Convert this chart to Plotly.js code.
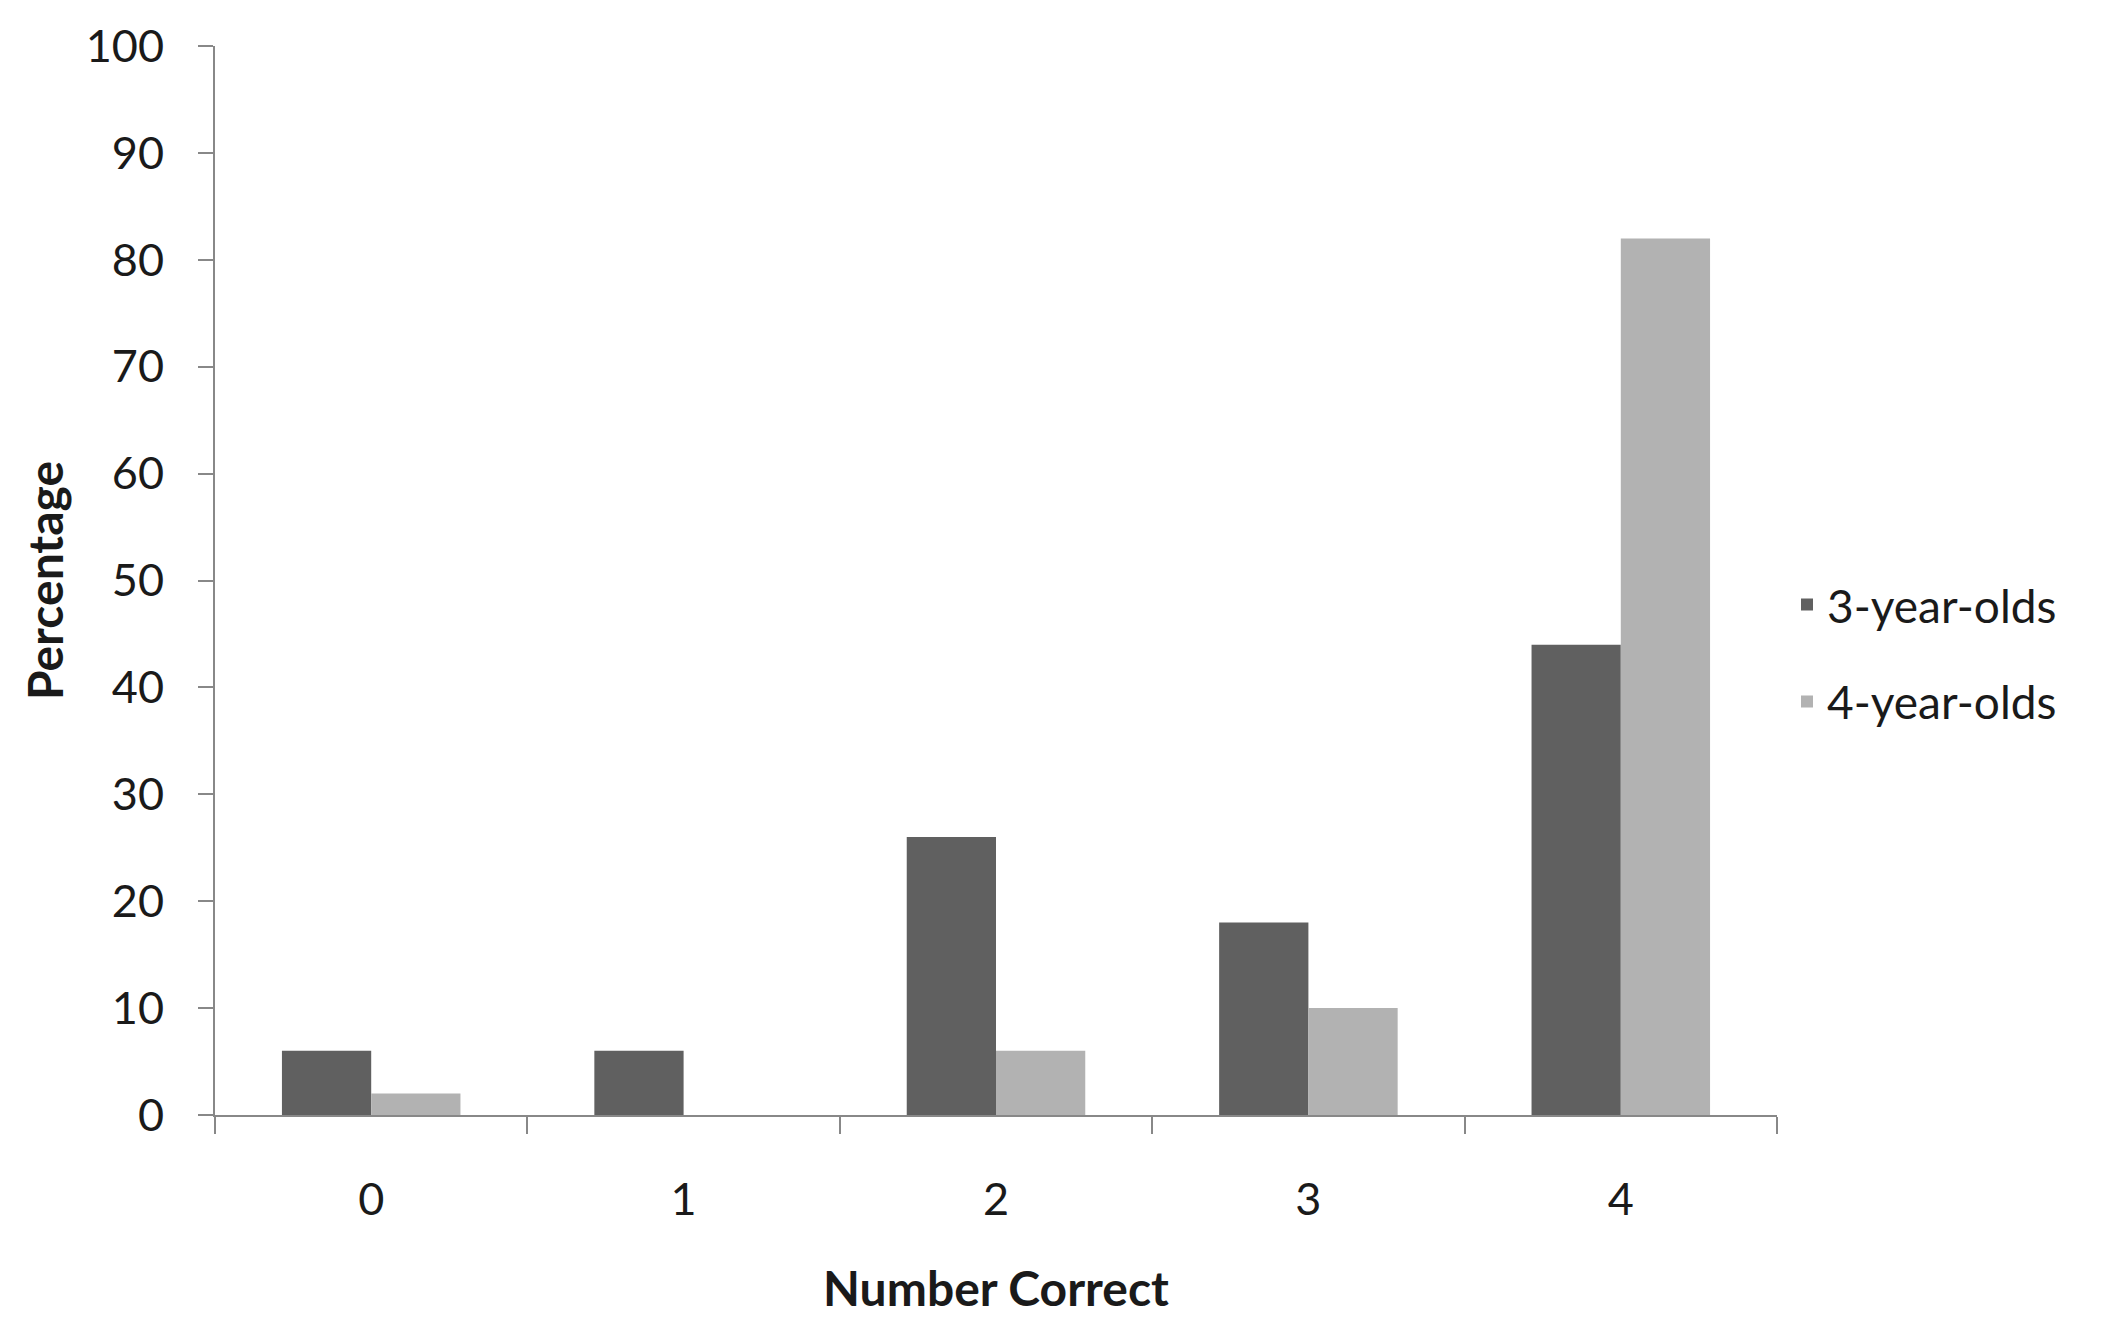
<!DOCTYPE html>
<html>
<head>
<meta charset="utf-8">
<script src="https://cdn.plot.ly/plotly-3.0.1.min.js"></script>
<style>html,body{margin:0;padding:0;background:#fff;}#chart{width:2103px;height:1337px;}</style>
</head>
<body>
<div id="chart"></div>
<script>
const categories = ["0", "1", "2", "3", "4"];
const threeYearOlds = [6, 6, 26, 18, 44];
const fourYearOlds = [2, 0, 6, 10, 82];
const seriesNames = ["3-year-olds", "4-year-olds"];
const yTicks = [0, 10, 20, 30, 40, 50, 60, 70, 80, 90, 100];

const FONT = "Lato, Carlito, Calibri, sans-serif";
const AXIS = "#888888";
const TXT = "#1a1a1a";

const traces = [
  {type: "bar", x: categories, y: threeYearOlds, name: seriesNames[0], legendgroup: "g1",
   marker: {color: "#606060", line: {width: 0}}},
  {type: "bar", x: categories, y: fourYearOlds, name: seriesNames[1], legendgroup: "g2",
   marker: {color: "#b2b2b2", line: {width: 0}}}
];

const layout = {
  width: 2103, height: 1337,
  paper_bgcolor: "#ffffff", plot_bgcolor: "#ffffff",
  font: {family: FONT, size: 45, color: TXT},
  margin: {l: 215, r: 326, t: 46, b: 222, pad: 0},
  barmode: "group",
  bargap: 1.5 / 3.5,
  bargroupgap: 0,
  showlegend: true,
  legend: {
    x: 1.0064, xanchor: "left", xref: "paper",
    y: 0.432, yanchor: "middle",
    font: {family: FONT, size: 46, color: TXT},
    traceorder: "grouped", tracegroupgap: 34, itemwidth: 30,
    bgcolor: "rgba(0,0,0,0)"
  },
  xaxis: {
    type: "category",
    categoryorder: "array", categoryarray: categories,
    range: [-0.5, 4.5],
    showline: true, linecolor: AXIS, linewidth: 2,
    ticks: "outside", tickson: "boundaries", ticklen: 17, tickwidth: 2, tickcolor: AXIS,
    showgrid: false, zeroline: false,
    ticklabelstandoff: 44,
    automargin: true,
    tickfont: {family: FONT, size: 45, color: TXT},
    title: {text: "<b>Number Correct</b>", font: {family: FONT, size: 48, color: TXT}, standoff: 48}
  },
  yaxis: {
    range: [0, 100],
    tickvals: yTicks,
    showline: true, linecolor: AXIS, linewidth: 2,
    ticks: "outside", ticklen: 15, tickwidth: 2, tickcolor: AXIS,
    showgrid: false, zeroline: false,
    ticklabelstandoff: 25,
    automargin: true,
    tickfont: {family: FONT, size: 45, color: TXT},
    title: {text: "<b>Percentage</b>", font: {family: FONT, size: 48, color: TXT}, standoff: 7}
  }
};

Plotly.newPlot("chart", traces, layout, {displayModeBar: false, staticPlot: true});
</script>
</body>
</html>
